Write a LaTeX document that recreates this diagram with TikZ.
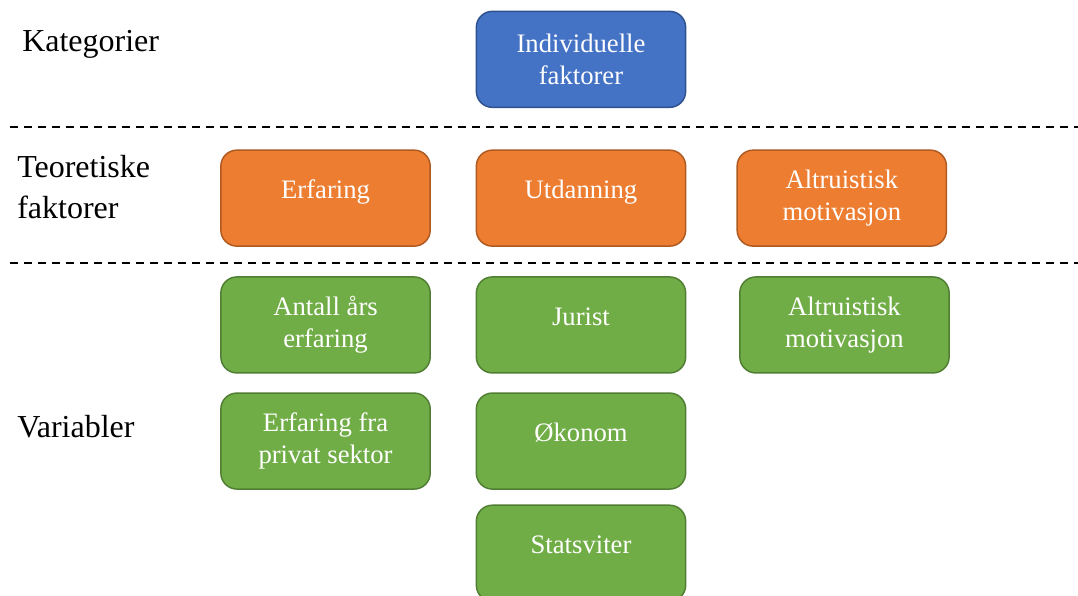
\documentclass[tikz,border=0pt]{standalone}
\usepackage{fontspec}
\setmainfont{Liberation Serif}
\usetikzlibrary{positioning}

\definecolor{blueFill}{HTML}{4472C4}
\definecolor{blueLine}{HTML}{2F528F}
\definecolor{orangeFill}{HTML}{ED7D31}
\definecolor{orangeLine}{HTML}{AE5A21}
\definecolor{greenFill}{HTML}{70AD47}
\definecolor{greenLine}{HTML}{507E32}

\begin{document}
\begin{tikzpicture}
	[	box/.style={rectangle,rounded corners=12pt,line width=1.1pt,text=white,
			minimum width=157pt,minimum height=72pt,align=center,
			font=\fontsize{20pt}{24pt}\selectfont},
		oneline/.style={text height=15.5pt,text depth=14.5pt},
		kat/.style={box,fill=blueFill,draw=blueLine},
		teo/.style={box,fill=orangeFill,draw=orangeLine},
		var/.style={box,fill=greenFill,draw=greenLine},
		rowlabel/.style={anchor=west,align=left,inner sep=0pt,
			font=\fontsize{24pt}{30.75pt}\selectfont},
		sep/.style={dash pattern=on 6pt off 4.5pt,line width=0.9pt}	]
	\useasboundingbox (0,0) rectangle (808.5pt,-447pt);
	% categories
	\node[kat] (indiv) at (435.75pt,-44.5pt) {Individuelle\\faktorer};
	% theoretical factors
	\node[teo,oneline] (utd) [below = 31pt of indiv] {Utdanning};
	\node[teo,oneline] (erf) [left = 33.5pt of utd] {Erfaring};
	\node[teo] (altT) [right = 37.5pt of utd] {Altruistisk\\motivasjon};
	% variables
	\node[var,oneline] (jur) [below = 22pt of utd] {Jurist};
	\node[var] (aar) [left = 33.5pt of jur] {Antall års\\erfaring};
	\node[var] (altV) [right = 39.5pt of jur] {Altruistisk\\motivasjon};
	\node[var,oneline] (oko) [below = 14pt of jur] {Økonom};
	\node[var] (priv) [left = 33.5pt of oko] {Erfaring fra\\privat sektor};
	\node[var,oneline] (stat) [below = 11pt of oko] {Statsviter};
	% row labels
	\node[rowlabel] (lKat) at (16.5pt,-33pt) {Kategorier};
	\node[rowlabel] (lTeo) at (12.75pt,-140pt) {Teoretiske\\faktorer};
	\node[rowlabel] (lVar) at (12.75pt,-320.25pt) {Variabler};
	% separators
	\coordinate (s1a) at (7.5pt,-95.25pt);
	\coordinate (s1b) at (808.5pt,-95.25pt);
	\coordinate (s2a) at (7.5pt,-197.25pt);
	\coordinate (s2b) at (808.5pt,-197.25pt);
	\draw[sep] (s1a) -- (s1b);
	\draw[sep] (s2a) -- (s2b);
\end{tikzpicture}
\end{document}
